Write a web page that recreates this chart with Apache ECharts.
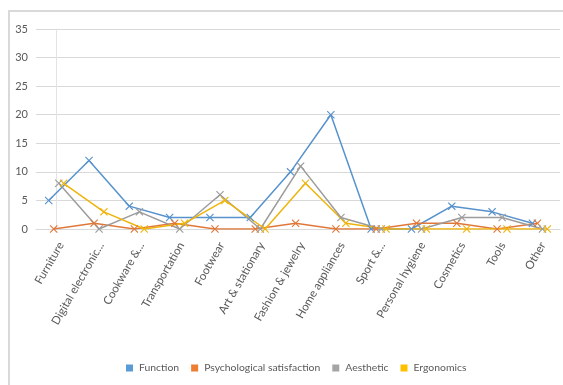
<!DOCTYPE html>
<html>
<head>
<meta charset="utf-8">
<script src="https://cdn.jsdelivr.net/npm/echarts@6/dist/echarts.min.js"></script>
<style>
  html, body { margin: 0; padding: 0; background: #ffffff; }
  #chart { width: 563px; height: 385px; }
</style>
</head>
<body>
<div id="chart"></div>
<script>
// Product categories along the horizontal axis
const categories = [
  'Furniture', 'Digital electronic...', 'Cookware &...', 'Transportation',
  'Footwear', 'Art & stationary', 'Fashion & jewelry', 'Home appliances',
  'Sport &...', 'Personal hygiene', 'Cosmetics', 'Tools', 'Other'
];

// Counts per category for each attribute
const seriesNames = ['Function', 'Psychological satisfaction', 'Aesthetic', 'Ergonomics'];
const functionValues      = [5, 12, 4, 2, 2, 2, 10, 20, 0, 0, 4, 3, 1];
const psychologicalValues = [0, 1, 0, 1, 0, 0, 1, 0, 0, 1, 1, 0, 1];
const aestheticValues     = [8, 0, 3, 0, 6, 0, 11, 2, 0, 0, 2, 2, 0];
const ergonomicsValues    = [8, 3, 0, 1, 5, 0, 8, 1, 0, 0, 0, 0, 0];

// Value axis ticks
const yTicks = [0, 5, 10, 15, 20, 25, 30, 35];

const allValues = [functionValues, psychologicalValues, aestheticValues, ergonomicsValues];
const colors = ['#5b9bd5', '#ed7d31', '#a5a5a5', '#ffc000'];
const lineColors = ['#5792cc', '#e0783a', '#9c9c9c', '#efb40c'];
// Each series sits slightly to one side of the category centre
const shifts = [-0.185, -0.06, 0.065, 0.185];

const xMarker = 'path://M0,1 L1,0 L5,4 L9,0 L10,1 L6,5 L10,9 L9,10 L5,6 L1,10 L0,9 L4,5 Z';

const font = 'Lato, "Open Sans", sans-serif';

const series = seriesNames.map((name, s) => ({
  name: name,
  type: 'line',
  xAxisIndex: 0,
  yAxisIndex: 0,
  data: allValues[s].map((v, i) => [i + shifts[s], v]),
  symbol: xMarker,
  symbolSize: 8,
  showSymbol: true,
  color: colors[s],
  itemStyle: { color: lineColors[s] },
  lineStyle: { color: lineColors[s], width: 1.5 },
  emphasis: { disabled: true },
  animation: false
}));

const chart = echarts.init(document.getElementById('chart'), null, { renderer: 'canvas' });
chart.setOption({
  backgroundColor: '#ffffff',
  animation: false,
  textStyle: { fontFamily: font },
  graphic: [{
    type: 'rect',
    shape: { x: 9, y: 11, width: 600, height: 420 },
    style: { fill: 'none', stroke: '#d9d9d9', lineWidth: 2 },
    silent: true
  }],
  grid: [
    { left: 36, right: 3, top: 29, bottom: 156 },
    // category labels sit a few pixels right of the marks
    { left: 41, right: -2, top: 29, bottom: 156 }
  ],
  legend: {
    left: 121,
    top: 358,
    itemWidth: 7,
    itemHeight: 7,
    itemGap: 12,
    icon: 'rect',
    data: seriesNames.map((n, s) => ({ name: n, itemStyle: { color: colors[s] } })),
    textStyle: { color: '#595959', fontSize: 10.4, fontFamily: font, padding: [0, 0, 0, 1] }
  },
  xAxis: [
    {
      type: 'value',
      gridIndex: 0,
      min: -0.5,
      max: 12.5,
      axisLine: { show: true, lineStyle: { color: '#d9d9d9', width: 1 } },
      axisTick: { show: false },
      axisLabel: { show: false },
      splitLine: { show: false }
    },
    {
      type: 'category',
      gridIndex: 1,
      data: categories,
      boundaryGap: true,
      position: 'bottom',
      axisLine: { show: false },
      axisTick: { show: false },
      axisLabel: {
        interval: 0,
        rotate: 60,
        margin: 14,
        color: '#595959',
        fontSize: 11.5,
        fontFamily: font
      },
      splitLine: { show: false }
    }
  ],
  yAxis: [
    {
      type: 'value',
      gridIndex: 0,
      min: yTicks[0],
      max: yTicks[yTicks.length - 1],
      interval: 5,
      axisLine: { show: true, lineStyle: { color: '#e3e3e3', width: 1 } },
      axisTick: { show: false },
      axisLabel: { color: '#595959', fontSize: 11, margin: 8, fontFamily: font },
      splitLine: { lineStyle: { color: '#d9d9d9', width: 1 } }
    },
    {
      type: 'value',
      gridIndex: 1,
      show: false,
      splitLine: { show: false }
    }
  ],
  series: series
});
</script>
</body>
</html>
